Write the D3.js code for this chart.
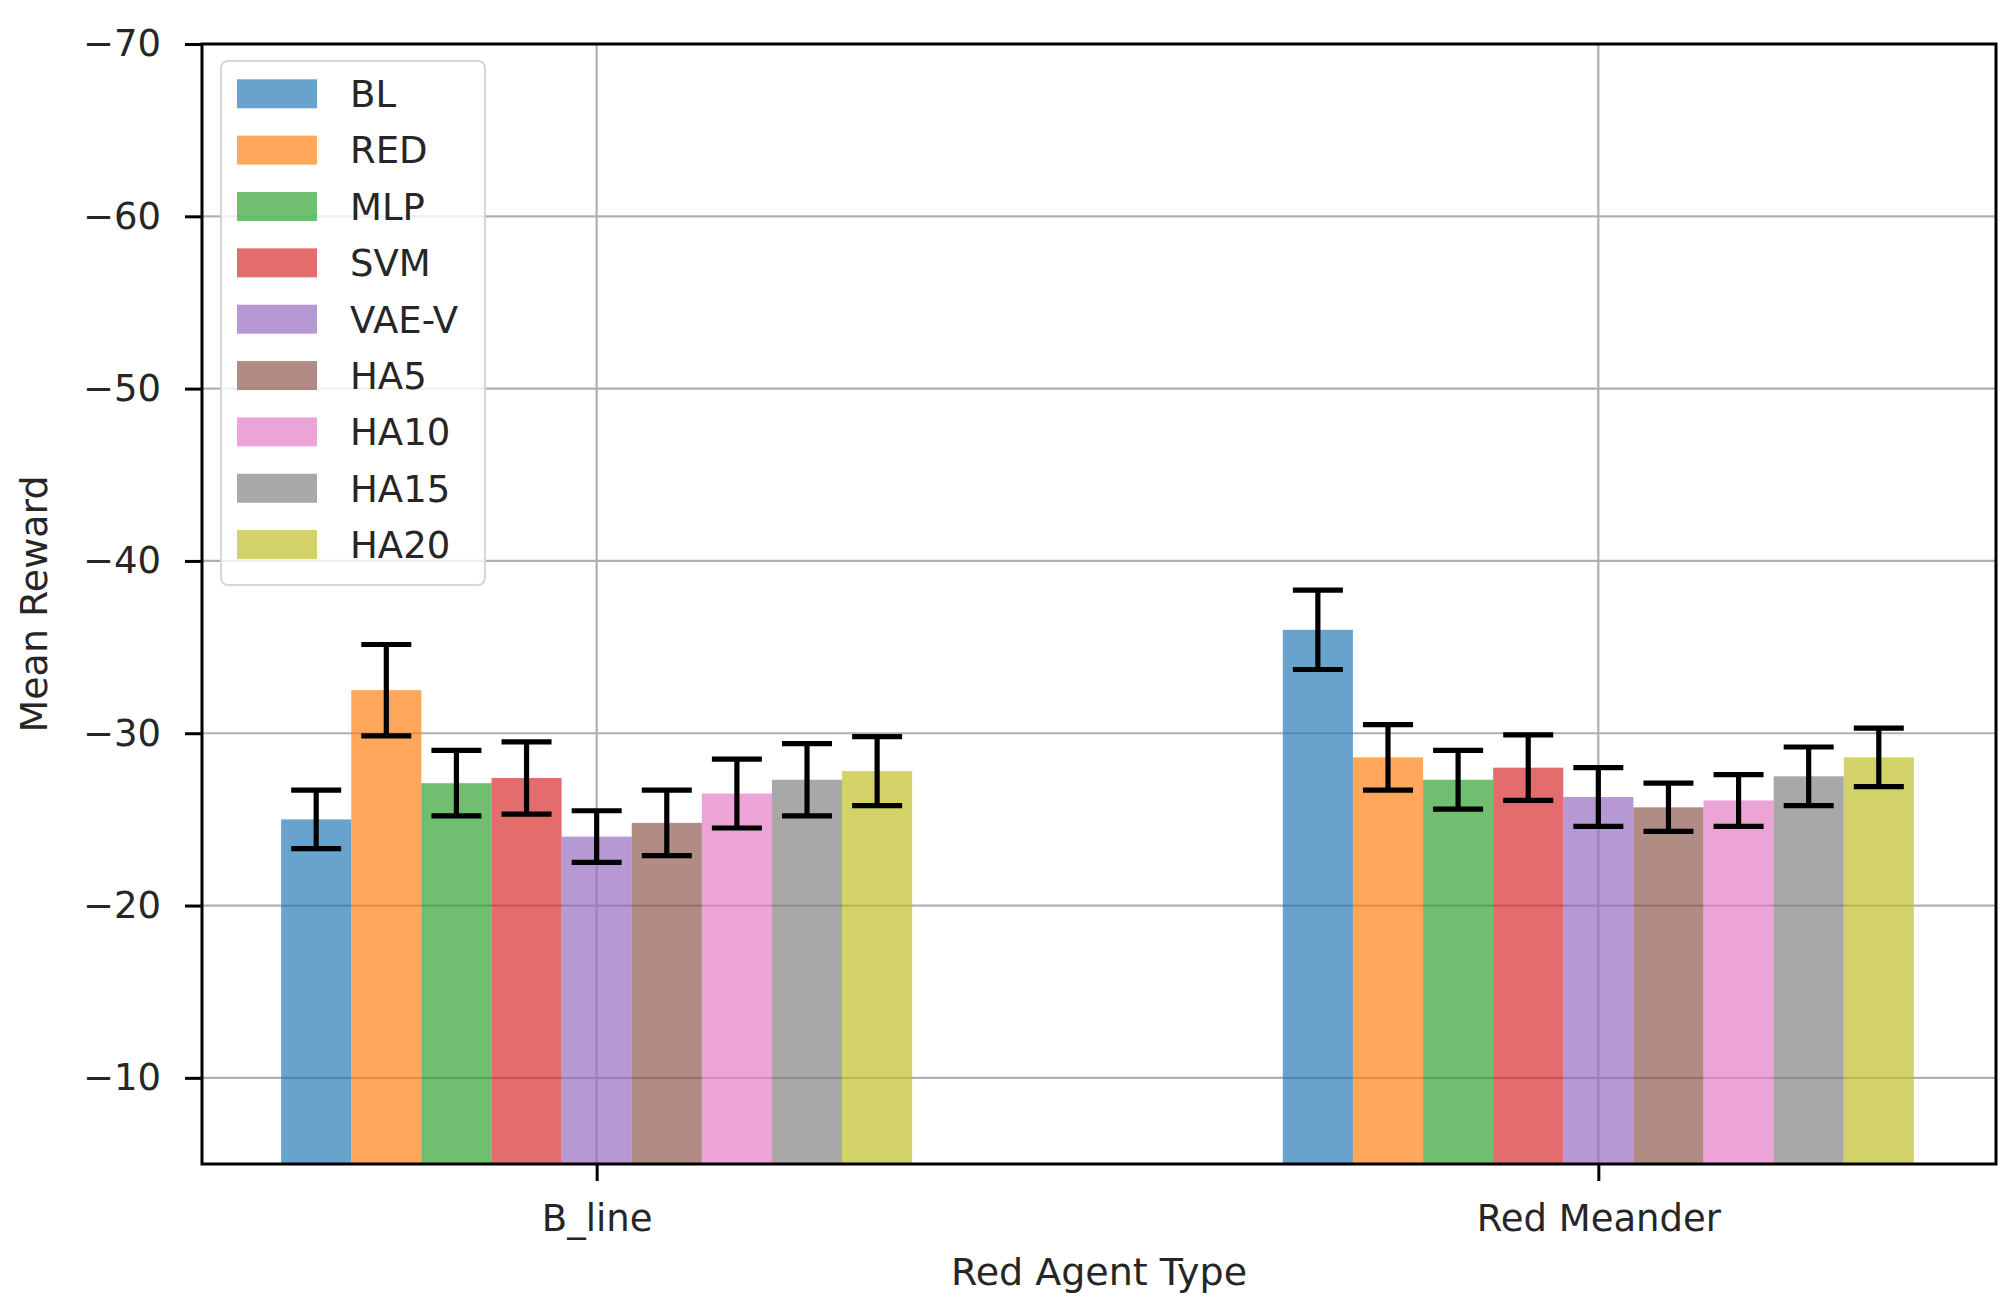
<!DOCTYPE html>
<html>
<head>
<meta charset="utf-8">
<title>Mean Reward by Red Agent Type</title>
<style>
  body { margin: 0; background: #fff; }
  svg text { font-family: "DejaVu Sans", sans-serif; fill: #262626; }
</style>
</head>
<body>
<script src="https://cdn.jsdelivr.net/npm/d3@7"></script>
<script>
// data
var agentTypes = ["B_line", "Red Meander"];
var models = ["BL", "RED", "MLP", "SVM", "VAE-V", "HA5", "HA10", "HA15", "HA20"];
var meanBline   = [-25.0, -32.5, -27.1, -27.4, -24.0, -24.8, -26.5, -27.3, -27.8];
var errBline    = [1.7, 2.65, 1.9, 2.1, 1.5, 1.9, 2.0, 2.1, 2.0];
var meanMeander = [-36.0, -28.6, -27.3, -28.0, -26.3, -25.7, -26.1, -27.5, -28.6];
var errMeander  = [2.3, 1.9, 1.7, 1.9, 1.7, 1.4, 1.5, 1.7, 1.7];
var yTicks = [-10, -20, -30, -40, -50, -60, -70];
var colors = ["#1f77b4", "#ff7f0e", "#2ca02c", "#d62728", "#9467bd",
              "#8c564b", "#e377c2", "#7f7f7f", "#bcbd22"];

var means = [meanBline, meanMeander];
var errs = [errBline, errMeander];

var W = 2016, H = 1310;
var pLeft = 202, pRight = 1996, pTop = 44, pBottom = 1164;

var svg = d3.select("body").append("svg")
    .attr("width", W)
    .attr("height", H);

// x: group index in data units, y: inverted (matplotlib style)
var x = d3.scaleLinear().domain([-0.394, 1.397]).range([pLeft, pRight]);
var xInner = d3.scaleBand().domain(models).range([-0.315, 0.315]).padding(0);
var y = d3.scaleLinear().domain([-5, -70]).range([pBottom, pTop]);
var color = d3.scaleOrdinal().domain(models).range(colors);

svg.append("clipPath").attr("id", "plotclip")
  .append("rect").attr("x", pLeft).attr("y", pTop)
  .attr("width", pRight - pLeft).attr("height", pBottom - pTop);

// grid
var grid = svg.append("g").attr("clip-path", "url(#plotclip)");
grid.selectAll(".hgrid").data(yTicks).enter().append("line")
    .attr("x1", pLeft).attr("x2", pRight)
    .attr("y1", d => y(d)).attr("y2", d => y(d))
    .attr("stroke", "#b0b0b0").attr("stroke-width", 2.2);
grid.selectAll(".vgrid").data(agentTypes).enter().append("line")
    .attr("x1", (d, i) => x(i)).attr("x2", (d, i) => x(i))
    .attr("y1", pTop).attr("y2", pBottom)
    .attr("stroke", "#b0b0b0").attr("stroke-width", 2.2);

// bars
var rows = [];
agentTypes.forEach(function(t, g) {
  models.forEach(function(m, i) {
    rows.push({group: g, model: m, value: means[g][i], err: errs[g][i]});
  });
});

var bw = x(xInner.bandwidth()) - x(0);
var plot = svg.append("g").attr("clip-path", "url(#plotclip)");
plot.selectAll(".bar").data(rows).enter().append("rect")
    .attr("class", "bar")
    .attr("x", d => x(d.group + xInner(d.model)))
    .attr("y", d => y(d.value))
    .attr("width", bw)
    .attr("height", d => pBottom - y(d.value))
    .attr("fill", d => color(d.model))
    .attr("fill-opacity", 0.68);

// error bars
var cap = 25;
var eb = plot.selectAll(".err").data(rows).enter().append("g")
    .attr("transform", d => "translate(" + (x(d.group + xInner(d.model)) + bw / 2) + ",0)");
eb.append("line")
    .attr("x1", 0).attr("x2", 0)
    .attr("y1", d => y(d.value - d.err)).attr("y2", d => y(d.value + d.err))
    .attr("stroke", "#000").attr("stroke-width", 5.2);
eb.append("line")
    .attr("x1", -cap).attr("x2", cap)
    .attr("y1", d => y(d.value - d.err)).attr("y2", d => y(d.value - d.err))
    .attr("stroke", "#000").attr("stroke-width", 5.2);
eb.append("line")
    .attr("x1", -cap).attr("x2", cap)
    .attr("y1", d => y(d.value + d.err)).attr("y2", d => y(d.value + d.err))
    .attr("stroke", "#000").attr("stroke-width", 5.2);

// axes
var yAxis = d3.axisLeft(y).tickValues(yTicks).tickSize(17).tickPadding(24);
var gy = svg.append("g").attr("transform", "translate(" + pLeft + ",0)").call(yAxis);
gy.select(".domain").remove();
gy.selectAll(".tick line").attr("stroke", "#000").attr("stroke-width", 3);
gy.selectAll(".tick text").style("font-size", "37px").attr("fill", "#262626")
    .style("font-family", "DejaVu Sans, sans-serif");

var xAxis = d3.axisBottom(x).tickValues([0, 1]).tickFormat(i => agentTypes[i])
    .tickSize(17).tickPadding(24);
var gx = svg.append("g").attr("transform", "translate(0," + pBottom + ")").call(xAxis);
gx.select(".domain").remove();
gx.selectAll(".tick line").attr("stroke", "#000").attr("stroke-width", 3);
gx.selectAll(".tick text").style("font-size", "37px").attr("fill", "#262626")
    .style("font-family", "DejaVu Sans, sans-serif");

// frame
svg.append("rect").attr("x", pLeft).attr("y", pTop)
    .attr("width", pRight - pLeft).attr("height", pBottom - pTop)
    .attr("fill", "none").attr("stroke", "#000").attr("stroke-width", 3);

// axis labels
svg.append("text")
    .attr("x", (pLeft + pRight) / 2).attr("y", 1285)
    .attr("text-anchor", "middle").style("font-size", "38px")
    .text("Red Agent Type");
svg.append("text")
    .attr("transform", "translate(47," + ((pTop + pBottom) / 2) + ") rotate(-90)")
    .attr("text-anchor", "middle").style("font-size", "38px")
    .text("Mean Reward");

// legend
var legend = svg.append("g");
legend.append("rect")
    .attr("x", 221).attr("y", 61).attr("width", 264).attr("height", 524)
    .attr("rx", 7)
    .attr("fill", "#fff").attr("fill-opacity", 0.8)
    .attr("stroke", "#d6d6d6").attr("stroke-width", 2);
var li = legend.selectAll(".item").data(models).enter().append("g")
    .attr("transform", (d, i) => "translate(0," + (93.8 + i * 56.35) + ")");
li.append("rect")
    .attr("x", 237).attr("y", -14.5).attr("width", 80).attr("height", 29)
    .attr("fill", d => color(d)).attr("fill-opacity", 0.68);
li.append("text")
    .attr("x", 350).attr("y", 0).attr("dy", "0.36em")
    .style("font-size", "37px")
    .text(d => d);
</script>
</body>
</html>
